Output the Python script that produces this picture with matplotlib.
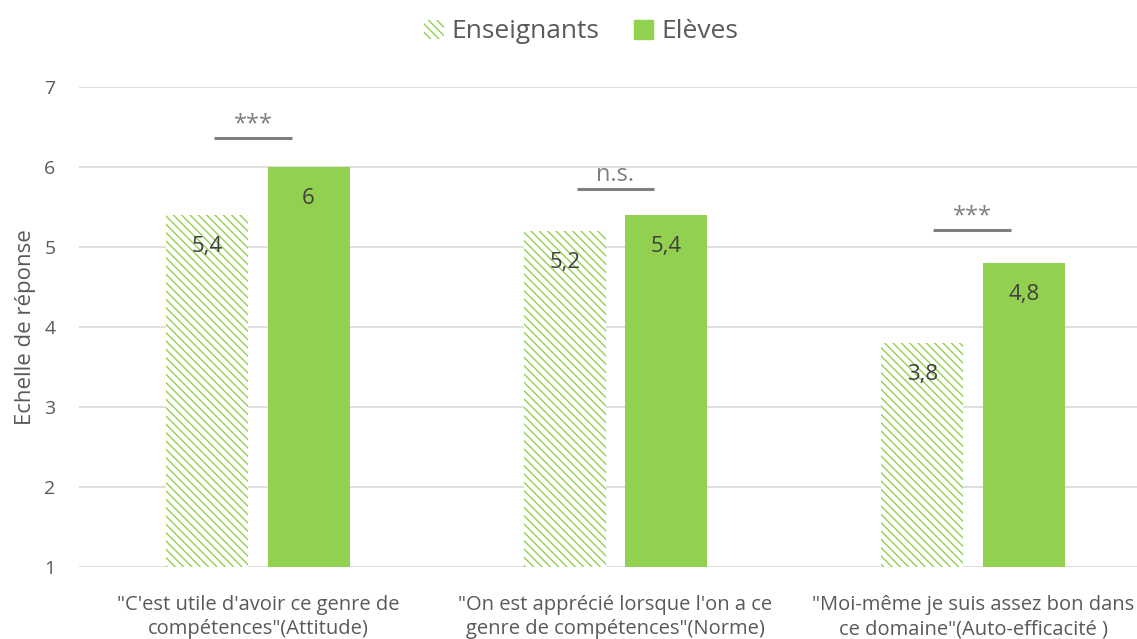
import matplotlib
matplotlib.use("Agg")
import matplotlib.pyplot as plt
from matplotlib.patches import Patch
import numpy as np

categories = ["\"C'est utile d'avoir ce genre de\ncompétences\"(Attitude)",
              "\"On est apprécié lorsque l'on a ce\ngenre de compétences\"(Norme)",
              "\"Moi-même je suis assez bon dans\nce domaine\"(Auto-efficacité )"]
enseignants = [5.4, 5.2, 3.8]
eleves = [6.0, 5.4, 4.8]
sig_labels = ["***", "n.s.", "***"]
sig_levels = [6.36, 5.73, 5.21]
sig_centers = [-0.013, 0.0, -0.002]

GREEN = "#92D050"
TXT = "#595959"
GRAY = "#7F7F7F"
FONT = "Open Sans"
HATCH = "\\\\\\\\"

plt.rcParams['font.family'] = [FONT, 'DejaVu Sans']
plt.rcParams['hatch.linewidth'] = 1.0

W, H = 1137, 639
fig = plt.figure(figsize=(W/100, H/100), dpi=100)
ax = fig.add_axes([79/W, (639-567)/H, 1073/W, 480/H])

x = np.arange(len(categories))
bw = 0.229
off = 0.142
b1 = ax.bar(x - off, enseignants, bw, facecolor="white", edgecolor=GREEN,
            hatch=HATCH, linewidth=0, zorder=2)
b2 = ax.bar(x + off, eleves, bw, color=GREEN, zorder=2)

for rects, vals in ((b1, enseignants), (b2, eleves)):
    for r, v in zip(rects, vals):
        lab = f"{v:g}".replace(".", ",")
        ax.text(r.get_x() + r.get_width()/2, v - 0.39, lab, ha="center", va="center",
                fontsize=16, color="#404040", zorder=4)

for xi, lvl, lab, c in zip(x, sig_levels, sig_labels, sig_centers):
    cx = xi + c
    ax.plot([cx - 0.109, cx + 0.109], [lvl, lvl], color=GRAY, lw=2.2,
            solid_capstyle="butt", zorder=3)
    ax.annotate(lab, (cx, lvl), xytext=(0, 1), textcoords="offset points",
                ha="center", va="bottom", fontsize=17, color=GRAY)

ax.set_xlim(-0.5, 2.5)
ax.set_ylim(1, 7)
ax.set_yticks(range(1, 8))
ax.yaxis.grid(True, color="#D9D9D9", lw=1.2, zorder=0)
ax.set_axisbelow(True)
for s in ax.spines.values():
    s.set_visible(False)
ax.tick_params(axis="y", length=0, pad=17, labelsize=14, labelcolor=TXT)
ax.tick_params(axis="x", length=0, pad=20, labelsize=14.5, labelcolor=TXT)
ax.set_xticks(x)
ax.set_xticklabels(categories, linespacing=1.3)
ax.set_ylabel("Echelle de réponse", fontsize=16, color=TXT, labelpad=6)

handles = [Patch(facecolor="white", edgecolor=GREEN, hatch=HATCH, linewidth=0),
           Patch(facecolor=GREEN, edgecolor=GREEN)]
fig.legend(handles, ["Enseignants", "Elèves"], loc="center", bbox_to_anchor=(581/W, 1 - 32/H),
           ncol=2, frameon=False, fontsize=19, labelcolor=TXT, handlelength=0.75,
           handleheight=0.75, handletextpad=0.3, columnspacing=1.3)

fig.savefig("out.png", dpi=100)
